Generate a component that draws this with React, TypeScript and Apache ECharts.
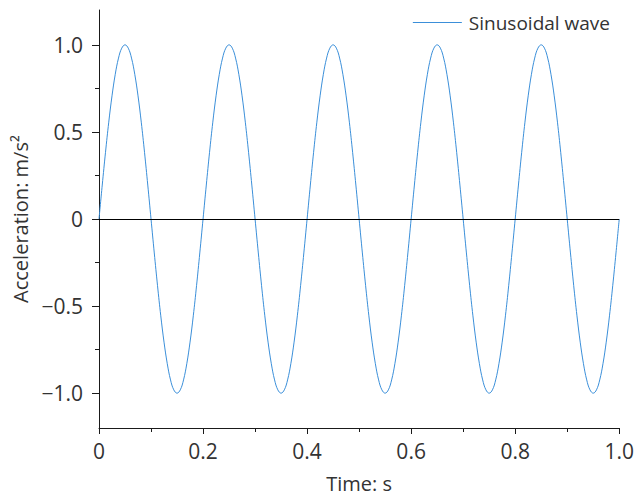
import React, { useEffect, useRef } from "react";
import * as echarts from "echarts";

const times = [
  0, 0.00625, 0.0125, 0.01875, 0.025, 0.03125, 0.0375, 0.04375, 0.05, 0.05625, 0.0625, 0.06875, 0.075, 0.08125, 0.0875, 0.09375,
  0.1, 0.10625, 0.1125, 0.11875, 0.125, 0.13125, 0.1375, 0.14375, 0.15, 0.15625, 0.1625, 0.16875, 0.175, 0.18125, 0.1875, 0.19375,
  0.2, 0.20625, 0.2125, 0.21875, 0.225, 0.23125, 0.2375, 0.24375, 0.25, 0.25625, 0.2625, 0.26875, 0.275, 0.28125, 0.2875, 0.29375,
  0.3, 0.30625, 0.3125, 0.31875, 0.325, 0.33125, 0.3375, 0.34375, 0.35, 0.35625, 0.3625, 0.36875, 0.375, 0.38125, 0.3875, 0.39375,
  0.4, 0.40625, 0.4125, 0.41875, 0.425, 0.43125, 0.4375, 0.44375, 0.45, 0.45625, 0.4625, 0.46875, 0.475, 0.48125, 0.4875, 0.49375,
  0.5, 0.50625, 0.5125, 0.51875, 0.525, 0.53125, 0.5375, 0.54375, 0.55, 0.55625, 0.5625, 0.56875, 0.575, 0.58125, 0.5875, 0.59375,
  0.6, 0.60625, 0.6125, 0.61875, 0.625, 0.63125, 0.6375, 0.64375, 0.65, 0.65625, 0.6625, 0.66875, 0.675, 0.68125, 0.6875, 0.69375,
  0.7, 0.70625, 0.7125, 0.71875, 0.725, 0.73125, 0.7375, 0.74375, 0.75, 0.75625, 0.7625, 0.76875, 0.775, 0.78125, 0.7875, 0.79375,
  0.8, 0.80625, 0.8125, 0.81875, 0.825, 0.83125, 0.8375, 0.84375, 0.85, 0.85625, 0.8625, 0.86875, 0.875, 0.88125, 0.8875, 0.89375,
  0.9, 0.90625, 0.9125, 0.91875, 0.925, 0.93125, 0.9375, 0.94375, 0.95, 0.95625, 0.9625, 0.96875, 0.975, 0.98125, 0.9875, 0.99375,
  1.0,
];

const acceleration = [
  0, 0.195, 0.383, 0.556, 0.707, 0.831, 0.924, 0.981, 1, 0.981, 0.924, 0.831, 0.707, 0.556, 0.383, 0.195,
  0, -0.195, -0.383, -0.556, -0.707, -0.831, -0.924, -0.981, -1, -0.981, -0.924, -0.831, -0.707, -0.556, -0.383, -0.195,
  0, 0.195, 0.383, 0.556, 0.707, 0.831, 0.924, 0.981, 1, 0.981, 0.924, 0.831, 0.707, 0.556, 0.383, 0.195,
  0, -0.195, -0.383, -0.556, -0.707, -0.831, -0.924, -0.981, -1, -0.981, -0.924, -0.831, -0.707, -0.556, -0.383, -0.195,
  0, 0.195, 0.383, 0.556, 0.707, 0.831, 0.924, 0.981, 1, 0.981, 0.924, 0.831, 0.707, 0.556, 0.383, 0.195,
  0, -0.195, -0.383, -0.556, -0.707, -0.831, -0.924, -0.981, -1, -0.981, -0.924, -0.831, -0.707, -0.556, -0.383, -0.195,
  0, 0.195, 0.383, 0.556, 0.707, 0.831, 0.924, 0.981, 1, 0.981, 0.924, 0.831, 0.707, 0.556, 0.383, 0.195,
  0, -0.195, -0.383, -0.556, -0.707, -0.831, -0.924, -0.981, -1, -0.981, -0.924, -0.831, -0.707, -0.556, -0.383, -0.195,
  0, 0.195, 0.383, 0.556, 0.707, 0.831, 0.924, 0.981, 1, 0.981, 0.924, 0.831, 0.707, 0.556, 0.383, 0.195,
  0, -0.195, -0.383, -0.556, -0.707, -0.831, -0.924, -0.981, -1, -0.981, -0.924, -0.831, -0.707, -0.556, -0.383, -0.195,
  0,
];

const yMajorTicks = [-1, -0.5, 0, 0.5, 1];
const yMinorTicks = [-0.75, -0.25, 0.25, 0.75];
const seriesName = "Sinusoidal wave";

const FONT = "'Open Sans', 'Noto Sans', sans-serif";
const AXIS_COLOR = "#1a1a1a";
const TEXT_COLOR = "#333333";
const LINE_COLOR = "#3b8fd9";

const fmt = (v: number) => {
  const s = v === 0 ? "0" : v.toFixed(1);
  return s.replace("-", "\u2212");
};

export default function App() {
  const ref = useRef<HTMLDivElement>(null);
  useEffect(() => {
    if (!ref.current) return;
    const chart = echarts.init(ref.current, null, { renderer: "svg" });
    const data = times.map((t, i) => [t, acceleration[i]]);
    chart.setOption({
      animation: false,
      backgroundColor: "#ffffff",
      grid: { left: 99, right: 15, top: 10, bottom: 68, containLabel: false },
      legend: {
        show: true,
        right: 22,
        top: 8,
        icon: "rect",
        itemWidth: 49,
        itemHeight: 1,
        itemGap: 6,
        textStyle: { fontFamily: FONT, fontSize: 19, color: TEXT_COLOR, padding: [0, 0, 0, 2] },
        data: [seriesName],
      },
      xAxis: {
        type: "value",
        min: 0,
        max: 1,
        interval: 0.2,
        name: "Time: s",
        nameLocation: "middle",
        nameGap: 45,
        nameTextStyle: { fontFamily: FONT, fontSize: 20, color: TEXT_COLOR },
        axisLine: { show: true, onZero: false, lineStyle: { color: AXIS_COLOR, width: 1 } },
        axisTick: { show: true, length: 6, lineStyle: { color: AXIS_COLOR } },
        minorTick: { show: true, splitNumber: 2, length: 4, lineStyle: { color: AXIS_COLOR } },
        axisLabel: {
          fontFamily: FONT,
          fontSize: 21,
          color: TEXT_COLOR,
          margin: 12,
          formatter: (v: number) => (v === 0 ? "0" : v.toFixed(1)),
        },
        splitLine: { show: false },
        minorSplitLine: { show: false },
      },
      yAxis: [
        {
          type: "value",
          min: -1.2,
          max: 1.2,
          name: "Acceleration: m/s\u00b2",
          nameLocation: "middle",
          nameGap: 65,
          nameTextStyle: { fontFamily: FONT, fontSize: 20, color: TEXT_COLOR },
          axisLine: { show: true, onZero: false, lineStyle: { color: AXIS_COLOR, width: 1 } },
          axisTick: { show: true, length: 7, customValues: yMajorTicks, lineStyle: { color: AXIS_COLOR } },
          axisLabel: {
            fontFamily: FONT,
            fontSize: 21,
            color: TEXT_COLOR,
            margin: 16,
            customValues: yMajorTicks,
            formatter: (v: number) => fmt(v),
          },
          splitLine: { show: false },
        },
        {
          type: "value",
          min: -1.2,
          max: 1.2,
          position: "left",
          axisLine: { show: false },
          axisTick: { show: true, length: 4, customValues: yMinorTicks, lineStyle: { color: AXIS_COLOR } },
          axisLabel: { show: false, customValues: yMinorTicks },
          splitLine: { show: false },
        },
      ],
      series: [
        {
          name: seriesName,
          type: "line",
          data,
          smooth: 0.4,
          symbol: "none",
          yAxisIndex: 0,
          lineStyle: { color: LINE_COLOR, width: 1 },
          itemStyle: { color: LINE_COLOR },
          markLine: {
            silent: true,
            symbol: "none",
            label: { show: false },
            lineStyle: { color: "#000000", width: 1, type: "solid" },
            data: [{ yAxis: 0 }],
          },
        },
      ],
    });
    return () => chart.dispose();
  }, []);
  return <div ref={ref} style={{ position: "fixed", left: 0, top: 0, width: 637, height: 498 }} />;
}
